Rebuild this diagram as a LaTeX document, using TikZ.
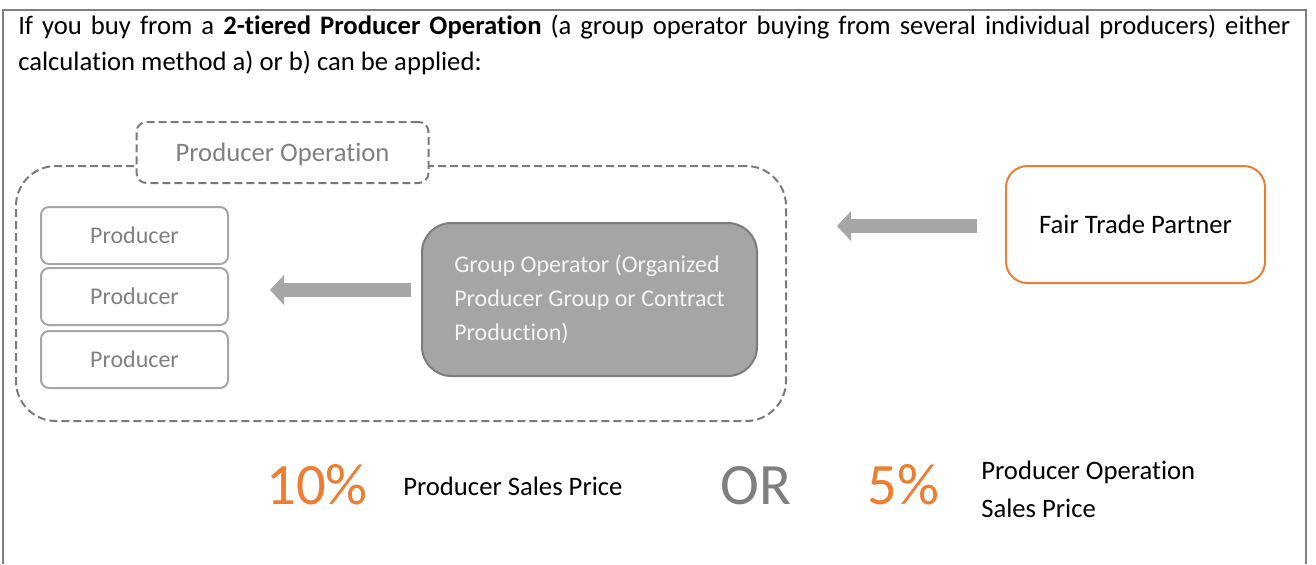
\documentclass[tikz,border=0pt]{standalone}
\usepackage{fontspec}
\setmainfont{Carlito}[Ligatures=NoCommon]
\usetikzlibrary{arrows.meta}
\definecolor{framegray}{HTML}{7F7F7F}
\definecolor{dashgray}{HTML}{7A7A7A}
\definecolor{lightgray}{HTML}{A6A6A6}
\definecolor{textgray}{HTML}{808080}
\definecolor{gofill}{HTML}{A5A5A5}
\definecolor{goborder}{HTML}{7C7C7C}
\definecolor{gotext}{HTML}{F4F4F4}
\definecolor{ftorange}{HTML}{ED7D31}
\definecolor{arrowgray}{HTML}{A6A6A6}
\tikzset{
  dashbox/.style={draw=dashgray, line width=1.5pt, dash pattern=on 6pt off 3pt, rounded corners=30pt, inner sep=0pt},
  titlebox/.style={draw=dashgray, fill=white, line width=1.5pt, dash pattern=on 6pt off 3pt, rounded corners=7.5pt, inner sep=0pt,
    minimum width={292*0.75pt}, minimum height={61*0.75pt}, text depth=0pt, text=textgray, font=\fontsize{20}{24}\selectfont},
  prodbox/.style={draw=lightgray, line width=1.5pt, rounded corners=6pt, inner sep=0pt,
    minimum width={187*0.75pt}, minimum height={57*0.75pt}, text=textgray, font=\fontsize{18}{22}\selectfont},
  gobox/.style={draw=goborder, fill=gofill, line width=1.5pt, rounded corners=22pt, inner sep=0pt,
    minimum width={335*0.75pt}, minimum height={153*0.75pt}, align=left, text=gotext,
    font=\fontsize{18}{25.5}\selectfont},
  ftbox/.style={draw=ftorange, line width=1.5pt, rounded corners=16pt, inner sep=0pt,
    minimum width={259*0.75pt}, minimum height={117*0.75pt}, text=black, font=\fontsize{20}{24}\selectfont},
  blockarrow/.style={draw=arrowgray, line width=10.5pt, -{Triangle[length=10.5pt, width=21.75pt]}},
  bigpct/.style={anchor=base west, inner sep=0pt, font=\fontsize{44}{52}\selectfont},
  plain/.style={anchor=base west, inner sep=0pt, font=\fontsize{20}{24}\selectfont}
}
\begin{document}
\begin{tikzpicture}[x=0.75pt, y=-0.75pt]
\useasboundingbox (0,0) rectangle (1316,564);
% outer frame
\draw[framegray, line width=1.5pt] (3,564) -- (3,9.5) -- (1306,9.5) -- (1306,564);
% heading
\node[plain] (h1) at (18,34) {\hbox to 954pt{If you buy from a \textbf{2-tiered Producer Operation} (a group operator buying from several individual producers) either}};
\node[plain] (h2) at (18,70) {calculation method a) or b) can be applied:};
% producer operation container
\node[dashbox, minimum width={770*0.75pt}, minimum height={255*0.75pt}] (op) at (401,293.5) {};
\node[titlebox] (title) at (282.5,152.5) {Producer Operation};
% producers
\node[prodbox] (p1) at (134.5,235.5) {Producer};
\node[prodbox] (p2) at (134.5,296.5) {Producer};
\node[prodbox] (p3) at (134.5,359.5) {Producer};
% group operator
\node[gobox] (go) at (589.5,299.5) {Group Operator (Organized\\Producer Group or Contract\\Production)};
% fair trade partner
\node[ftbox] (ft) at (1135.5,224.5) {Fair Trade Partner};
% arrows
\coordinate (a1s) at (411,290);
\coordinate (a1e) at (270,290);
\coordinate (a2s) at (977,226);
\coordinate (a2e) at (837,226);
\draw[blockarrow] (a1s) -- (a1e);
\draw[blockarrow] (a2s) -- (a2e);
% bottom line
\node[bigpct, text=ftorange] (pct10) at (266,504) {10\%};
\node[plain] (psp) at (403,495) {Producer Sales Price};
\node[bigpct, text=framegray] (or) at (720,504) {OR};
\node[bigpct, text=ftorange] (pct5) at (867,504) {5\%};
\node[plain] (pos1) at (981,479) {Producer Operation};
\node[plain] (pos2) at (981,517) {Sales Price};
\end{tikzpicture}
\end{document}
